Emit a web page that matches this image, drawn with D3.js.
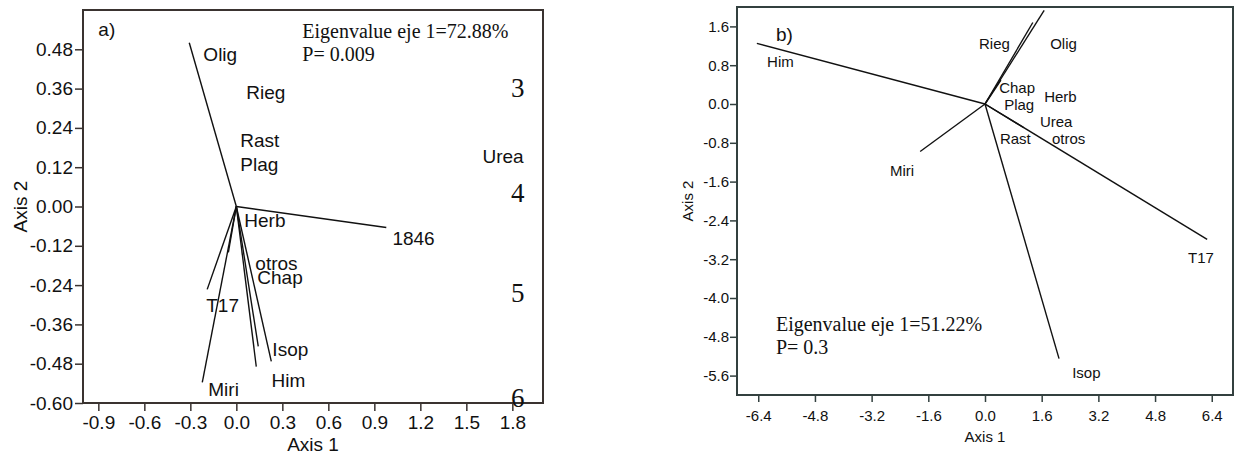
<!DOCTYPE html>
<html>
<head>
<meta charset="utf-8">
<script src="https://cdn.jsdelivr.net/npm/d3@7"></script>
<style>
  body { margin: 0; background: #fff; }
  svg { display: block; }
  text { font-family: "Liberation Sans", Arial, sans-serif; fill: #111; }
  .serif { font-family: "Liberation Serif", "Times New Roman", serif; }
</style>
</head>
<body>
<svg id="chart" width="1235" height="455"></svg>
<script>
// ---- panel a) ----
const aVecNames = ["Olig", "1846", "T17", "Miri", "otros", "Him", "Isop", "Chap"];
const aVecX = [-0.307, 0.978, -0.19, -0.222, -0.052, 0.13, 0.143, 0.228];
const aVecY = [0.50, -0.064, -0.253, -0.537, -0.14, -0.489, -0.427, -0.473];
const aLabels = ["Olig", "Rieg", "Rast", "Plag", "Urea", "Herb", "1846", "otros", "Chap", "T17", "Isop", "Him", "Miri"];
const aLabX = [-0.215, 0.065, 0.026, 0.026, 1.605, 0.052, 1.018, 0.124, 0.137, -0.196, 0.235, 0.23, -0.183];
const aLabY = [0.443, 0.327, 0.183, 0.107, 0.134, -0.064, -0.119, -0.195, -0.238, -0.321, -0.458, -0.55, -0.58];
const aXTicks = [-0.9, -0.6, -0.3, 0.0, 0.3, 0.6, 0.9, 1.2, 1.5, 1.8];
const aYTicks = [-0.60, -0.48, -0.36, -0.24, -0.12, 0.00, 0.12, 0.24, 0.36, 0.48];
const aNums = ["3", "4", "5", "6"];
const aNumY = [0.333, 0.015, -0.293, -0.611];
const aStats = ["Eigenvalue eje 1=72.88%", "P= 0.009"];

// ---- panel b) ----
const bVecNames = ["Him", "Miri", "Olig", "Rieg", "Chap", "T17", "Isop", "otros"];
const bVecX = [-6.44, -1.83, 1.67, 1.35, 0.45, 6.27, 2.09, 1.1];
const bVecY = [1.25, -0.98, 1.93, 1.68, 0.49, -2.79, -5.25, -0.49];
const bLabels = ["Him", "Miri", "Rieg", "Olig", "Chap", "Herb", "Plag", "Urea", "Rast", "otros", "T17", "Isop"];
const bLabX = [-6.15, -2.68, -0.17, 1.84, 0.4, 1.67, 0.54, 1.55, 0.42, 1.89, 5.73, 2.46];
const bLabY = [0.76, -1.48, 1.13, 1.13, 0.23, 0.04, -0.12, -0.47, -0.82, -0.82, -3.28, -5.64];
const bXTicks = [-6.4, -4.8, -3.2, -1.6, 0.0, 1.6, 3.2, 4.8, 6.4];
const bYTicks = [-5.6, -4.8, -4.0, -3.2, -2.4, -1.6, -0.8, 0.0, 0.8, 1.6];
const bStats = ["Eigenvalue eje 1=51.22%", "P= 0.3"];

const svg = d3.select("#chart");
const dash = s => s.replace("\u2212", "-");

function drawPanel(o) {
  const x = d3.scaleLinear().domain(o.xDom).range([o.left, o.right]);
  const y = d3.scaleLinear().domain(o.yDom).range([o.bottom, o.top]);
  const g = svg.append("g");

  const xAxis = g.append("g")
    .attr("transform", `translate(0,${o.bottom})`)
    .call(d3.axisBottom(x).tickValues(o.xTicks).tickFormat(d => dash(d3.format(".1f")(d)))
      .tickSize(o.tick).tickPadding(o.xPad).tickSizeOuter(0));
  const yAxis = g.append("g")
    .attr("transform", `translate(${o.left},0)`)
    .call(d3.axisLeft(y).tickValues(o.yTicks).tickFormat(d => dash(d3.format(o.yFmt)(d)))
      .tickSize(o.tick).tickPadding(o.yPad).tickSizeOuter(0));
  [xAxis, yAxis].forEach(ax => {
    ax.select(".domain").remove();
    ax.selectAll("line").attr("stroke", o.frame).attr("stroke-width", 1.5);
    ax.selectAll("text").style("font-size", o.font + "px").attr("fill", "#111");
  });

  g.append("rect")
    .attr("x", o.left).attr("y", o.top)
    .attr("width", o.right - o.left).attr("height", o.bottom - o.top)
    .attr("fill", "none").attr("stroke", o.frame).attr("stroke-width", 2);

  g.append("g").selectAll("line")
    .data(o.vx.map((v, i) => ({ name: o.vn[i], x: v, y: o.vy[i] })))
    .join("line")
      .attr("x1", x(0)).attr("y1", y(0))
      .attr("x2", d => x(d.x)).attr("y2", d => y(d.y))
      .attr("stroke", "#111").attr("stroke-width", 1.4);

  g.append("g").selectAll("text")
    .data(o.labels.map((t, i) => ({ t, x: o.lx[i], y: o.ly[i] })))
    .join("text")
      .attr("x", d => x(d.x)).attr("y", d => y(d.y))
      .style("font-size", o.font + "px")
      .text(d => d.t);

  g.append("text")
    .attr("x", (o.left + o.right) / 2).attr("y", o.xTitleY)
    .attr("text-anchor", "middle").style("font-size", o.font + "px")
    .text("Axis 1");
  g.append("text")
    .attr("transform", `translate(${o.yTitleX},${(o.top + o.bottom) / 2}) rotate(-90)`)
    .attr("text-anchor", "middle").style("font-size", o.font + "px")
    .text("Axis 2");

  g.append("text")
    .attr("x", x(o.tagAt[0])).attr("y", y(o.tagAt[1]))
    .style("font-size", o.tagFont + "px").text(o.tag);

  g.append("g").selectAll("text")
    .data(o.stats)
    .join("text")
      .attr("class", "serif")
      .attr("x", x(o.statAt[0]))
      .attr("y", (d, i) => y(o.statAt[1]) + i * 23)
      .style("font-size", "20px")
      .text(d => d);
  return { x, y, g };
}

const pa = drawPanel({
  xDom: [-1.0, 2.0], yDom: [-0.6, 0.6],
  left: 83, right: 543, top: 10, bottom: 403,
  xTicks: aXTicks, yTicks: aYTicks, yFmt: ".2f",
  tick: 8, xPad: 5, yPad: 2, font: 19, frame: "#3a3330",
  vn: aVecNames, vx: aVecX, vy: aVecY,
  labels: aLabels, lx: aLabX, ly: aLabY,
  xTitleY: 451, yTitleX: 27,
  tag: "a)", tagAt: [-0.9, 0.52], tagFont: 19,
  stats: aStats, statAt: [0.43, 0.513]
});

pa.g.append("g").selectAll("text")
  .data(aNums.map((t, i) => ({ t, y: aNumY[i] })))
  .join("text")
    .attr("class", "serif")
    .attr("x", pa.x(1.879)).attr("y", d => pa.y(d.y))
    .attr("text-anchor", "end")
    .style("font-size", "27px")
    .text(d => d.t);

drawPanel({
  xDom: [-7, 7], yDom: [-6, 2],
  left: 737, right: 1233, top: 7, bottom: 395,
  xTicks: bXTicks, yTicks: bYTicks, yFmt: ".1f",
  tick: 7, xPad: 8, yPad: 1, font: 15, frame: "#33403f",
  vn: bVecNames, vx: bVecX, vy: bVecY,
  labels: bLabels, lx: bLabX, ly: bLabY,
  xTitleY: 442, yTitleX: 693,
  tag: "b)", tagAt: [-5.9, 1.29], tagFont: 19,
  stats: bStats, statAt: [-5.9, -4.68]
});
</script>
</body>
</html>
